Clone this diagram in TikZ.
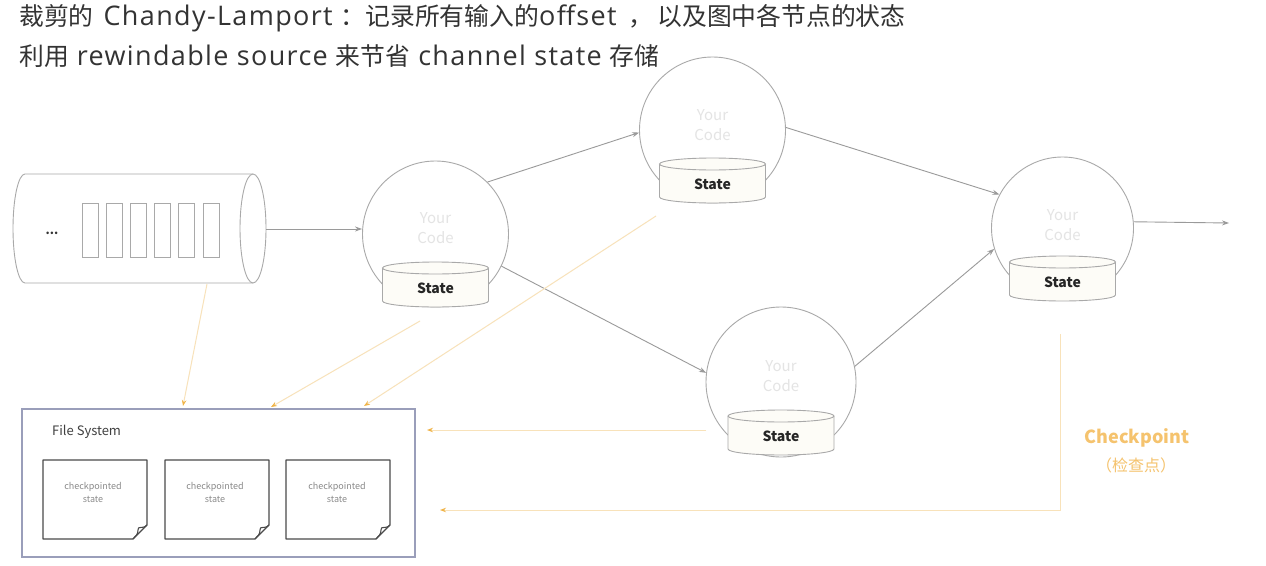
\documentclass[tikz,border=0pt]{standalone}
\usepackage{fontspec}
\setmainfont{Noto Sans CJK SC}
\newfontfamily\latf[LetterSpace=5]{Open Sans}
\newcommand\LT[1]{{\latf\fontsize{27}{24}\selectfont #1}}
\usetikzlibrary{arrows.meta}
\definecolor{tc}{HTML}{333333}
\definecolor{ln}{HTML}{A9A9A9}
\definecolor{arr}{HTML}{9A9A9A}
\definecolor{yc}{HTML}{E4E4E4}
\definecolor{dbfill}{HTML}{FDFCF7}
\definecolor{orl}{HTML}{F8E2BA}
\definecolor{ort}{HTML}{F0B448}
\definecolor{ortext}{HTML}{F5C36E}
\definecolor{fsb}{HTML}{9A9EBA}
\definecolor{docl}{HTML}{4A4A4A}
\definecolor{doct}{HTML}{8A8A8A}
\tikzset{
  proc/.style={circle,draw=ln,line width=0.9pt,minimum size=146pt,inner sep=0pt},
  yourcode/.style={text=yc,font=\fontsize{15}{20}\selectfont,align=center,inner sep=0pt},
  statelbl/.style={text=black!85,font=\bfseries\fontsize{14}{14}\selectfont,inner sep=0pt},
  flow/.style={draw=arr,line width=0.9pt,-{Stealth[length=7pt,width=5pt]}},
  orflow/.style={draw=orl,line width=1pt,-{Stealth[length=6pt,width=4.5pt,color=ort]}},
  docline/.style={draw=docl,line width=1.1pt,line join=round},
  doctext/.style={text=doct,font=\fontsize{9}{13}\selectfont,align=center,inner sep=0pt},
  titletext/.style={anchor=west,text=tc,font=\fontsize{24.8}{24}\selectfont,inner sep=0pt},
}
\newcommand\statedb[3]{% name, x, ycenter of circle
  \fill[dbfill] ({#2-53},{#3+34}) -- ({#2-53},{#3+67}) arc[start angle=180,end angle=0,x radius=53,y radius=6] -- ({#2+53},{#3+34}) -- cycle;
  \draw[ln,line width=0.9pt] ({#2-53},{#3+34}) -- ({#2-53},{#3+67}) arc[start angle=180,end angle=0,x radius=53,y radius=6] -- ({#2+53},{#3+34});
  \draw[ln,line width=0.9pt,fill=dbfill] (#2,{#3+34}) ellipse[x radius=53,y radius=6];
  \node[statelbl] (#1) at (#2,{#3+54}) {State};
}
\newcommand\docsheet[4]{% name, x1, y1, xtext
  \draw[docline,fill=white] (#2,#3) -- ({#2+104},#3) -- ({#2+104},{#3+65}) -- ({#2+90},{#3+79}) -- (#2,{#3+79}) -- cycle;
  \draw[docline] ({#2+104},{#3+65}) .. controls ({#2+99},{#3+70}) and ({#2+95},{#3+65}) .. ({#2+95},{#3+70}) .. controls ({#2+95},{#3+75}) and ({#2+93},{#3+75}) .. ({#2+90},{#3+79});
  \node[doctext] (#1) at (#4,{#3+32}) {checkpointed\\state};
}
\begin{document}
\begin{tikzpicture}[x=1pt,y=-1pt]
\fill[white] (0,0) rectangle (1266,565);
\useasboundingbox (0,0) rectangle (1266,565);

% title
\node[titletext] (t1) at (19,18) {裁剪的\hspace{10pt}\LT{Chandy-Lamport}\hspace{8pt}：记录所有输入的\LT{offset}\hspace{12pt}，\hspace{4pt}以及图中各节点的状态};
\node[titletext] (t2) at (19,56) {利用\hspace{8pt}\LT{rewindable source}\hspace{8pt}来节省\hspace{8pt}\LT{channel state}\hspace{8pt}存储};

% queue
\draw[ln,line width=0.9pt,fill=white] (253,174) -- (25,174) arc[start angle=270,end angle=90,x radius=12,y radius=54.5] -- (253,283);
\draw[ln,line width=0.9pt,fill=white] (253,228.5) ellipse[x radius=13,y radius=54.5];
\foreach \i in {0,...,5}{
  \draw[ln,line width=0.9pt] ({82+24.2*\i},203) rectangle ({98+24.2*\i},257);
}
\node[font=\bfseries\fontsize{12}{12}\selectfont,text=black!80,inner sep=0pt] (dots) at (52,233) {...};
\coordinate (qout) at (266,229);
\coordinate (qbot) at (207,284);

% processes
\node[proc] (c1) at (435.5,234) {};
\node[proc] (c2) at (712.5,130) {};
\node[proc,minimum size=150pt] (c3) at (781,382) {};
\node[proc,minimum size=142pt] (c4) at (1062.5,228) {};

\node[yourcode] (y1) at (435.5,228) {Your\\Code};
\node[yourcode] (y2) at (712.5,125) {Your\\Code};
\node[yourcode] (y3) at (781,376) {Your\\Code};
\node[yourcode] (y4) at (1062.5,225) {Your\\Code};

\statedb{s1}{435.5}{234}
\statedb{s2}{712.5}{130}
\statedb{s3}{781}{382}
\statedb{s4}{1062.5}{228}

% data flow
\draw[flow] (qout) -- (qout -| c1.west);
\draw[flow] (c1.45) -- (c2.182);
\draw[flow] (c1.-26) -- (c3.173);
\draw[flow] (c2.2) -- (c4.152);
\draw[flow] (c3.12) -- (c4.197);
\coordinate (outend) at (1229,223);
\draw[flow] (c4.5) -- (outend);

% file system
\node[draw=fsb,line width=1.2pt,minimum width=393pt,minimum height=148pt,inner sep=0pt] (fs) at (218.5,483) {};
\node[anchor=west,text=black!75,font=\fontsize{13}{13}\selectfont,inner sep=0pt] (fslbl) at (52,432) {File System};
\docsheet{d1}{43}{460}{93}
\docsheet{d2}{165}{460}{215}
\docsheet{d3}{286}{460}{337}

% checkpoint flows
\coordinate (e1) at (183,406);
\coordinate (e2) at (271,407);
\coordinate (e3) at (364,406);
\coordinate (e4) at (427,430);
\coordinate (e5) at (440,510);
\coordinate (b2) at (420,321);
\coordinate (b3) at (656,216);
\coordinate (b4) at (706,430);
\coordinate (b5) at (1060,334);
\coordinate (k5) at (1060,510);
\draw[orflow] (qbot) -- (e1);
\draw[orflow] (b2) -- (e2);
\draw[orflow] (b3) -- (e3);
\draw[orflow] (b4) -- (e4);
\draw[orflow] (b5) -- (k5) -- (e5);

\node[text=ortext,font=\bfseries\fontsize{18}{18}\selectfont,inner sep=0pt] (ck) at (1137,438) {Checkpoint};
\node[text=ortext,font=\fontsize{16}{16}\selectfont,inner sep=0pt] (ck2) at (1136,465) {（检查点）};
\end{tikzpicture}
\end{document}
